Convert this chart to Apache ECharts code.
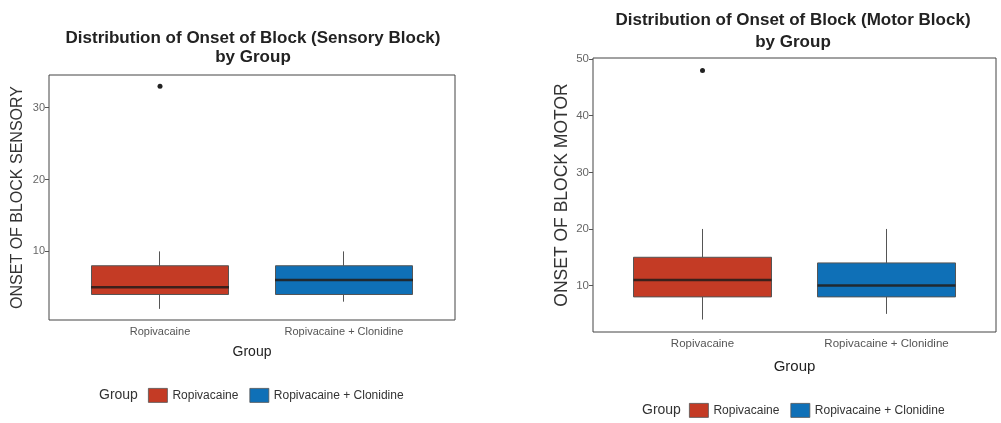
<!DOCTYPE html>
<html>
<head>
<meta charset="utf-8">
<script src="https://cdn.jsdelivr.net/npm/echarts@6/dist/echarts.min.js"></script>
<style>
  html, body { margin: 0; padding: 0; background: #fff; }
  #chart { width: 1001px; height: 423px; }
</style>
</head>
<body>
<div id="chart"></div>
<script>
// groups on the x axis
const groups = ['Ropivacaine', 'Ropivacaine + Clonidine'];
const groupColors = ['#C43B25', '#0F70B7'];

// [min, Q1, median, Q3, max] per group
const sensoryBox = [[2, 4, 5, 8, 10], [3, 4, 6, 8, 10]];
const sensoryOutliers = [['Ropivacaine', 33]];
const sensoryTicks = [10, 20, 30];

const motorBox = [[4, 8, 11, 15, 20], [5, 8, 10, 14, 20]];
const motorOutliers = [['Ropivacaine', 48]];
const motorTicks = [10, 20, 30, 40, 50];

const chart = echarts.init(document.getElementById('chart'));

const axisGrey = '#555';

function panel(p) {
  // p.frame = grid of the bordered frame, p.data = grid of the data area
  const xAxes = [
    {gridIndex: p.frame, type: 'value', show: false},
    {
      gridIndex: p.data,
      type: 'category',
      data: groups,
      axisLine: {show: false},
      axisTick: {alignWithLabel: true, length: 4, lineStyle: {color: axisGrey}},
      axisLabel: {color: axisGrey, fontSize: p.tickFont, margin: 6},
      name: 'Group',
      nameLocation: 'middle',
      nameGap: p.xNameGap,
      nameTextStyle: {fontSize: p.nameFont, color: '#222'},
    },
  ];
  const yAxes = [
    {gridIndex: p.frame, type: 'value', show: false},
    {
      gridIndex: p.data,
      type: 'value',
      min: p.min,
      max: p.max,
      offset: p.offset,
      axisLine: {show: false},
      axisTick: {show: true, length: 4, customValues: p.ticks, lineStyle: {color: axisGrey}},
      axisLabel: {customValues: p.ticks, color: '#666', fontSize: p.tickFont, margin: 4},
      splitLine: {show: false},
      name: p.yName,
      nameLocation: 'middle',
      nameGap: p.yNameGap,
      nameTextStyle: {fontSize: p.yNameFont, color: '#333'},
    },
  ];
  return {xAxes, yAxes};
}

const left = panel({frame: 0, data: 1, min: 0.45, max: 34.55, offset: 19, ticks: sensoryTicks,
  yName: 'ONSET OF BLOCK SENSORY', yNameFont: 16, yNameGap: 23, xNameGap: 25, tickFont: 11, nameFont: 14});
const right = panel({frame: 2, data: 3, min: 1.8, max: 50.2, offset: 17.5, ticks: motorTicks,
  yName: 'ONSET OF BLOCK MOTOR', yNameFont: 17.5, yNameGap: 22, xNameGap: 27, tickFont: 11.5, nameFont: 15});

// box + whiskers (no caps, like ggplot) as candlesticks: [Q1, Q3, min, max]
function boxSeries(boxes, outliers, axisIdx) {
  const boxes2 = groups.map((g, i) => ({
    name: g,
    type: 'candlestick',
    xAxisIndex: axisIdx,
    yAxisIndex: axisIdx,
    barWidth: 138,
    itemStyle: {color: groupColors[i], color0: groupColors[i], borderColor: '#555', borderColor0: '#555', borderWidth: 1},
    data: boxes.map((v, j) => (j === i ? [v[1], v[3], v[0], v[4]] : ['-', '-', '-', '-'])),
    z: 2,
  }));
  return boxes2.concat([
    {
      // thick median line
      type: 'scatter',
      xAxisIndex: axisIdx,
      yAxisIndex: axisIdx,
      symbol: 'rect',
      symbolSize: [138, 2.5],
      itemStyle: {color: 'rgba(35,28,26,0.85)', opacity: 1},
      data: boxes.map((v, i) => [groups[i], v[2]]),
      z: 3,
      silent: true,
    },
    {
      type: 'scatter',
      xAxisIndex: axisIdx,
      yAxisIndex: axisIdx,
      symbolSize: 5,
      itemStyle: {color: '#222', opacity: 1},
      data: outliers,
      z: 3,
    },
  ]);
}

const legendCommon = {
  data: groups,
  orient: 'horizontal',
  icon: 'rect',
  itemWidth: 19,
  itemHeight: 14,
  itemGap: 11,
  itemStyle: {borderColor: '#555', borderWidth: 0.8},
  textStyle: {fontSize: 12, color: '#333'},
  selectedMode: false,
};

const option = {
  animation: false,
  textStyle: {fontFamily: 'Liberation Sans, Arial, sans-serif'},
  title: [
    {
      text: 'Distribution of Onset of Block (Sensory Block)\nby Group',
      left: 248, top: 23.5, textAlign: 'center',
      textStyle: {fontSize: 17, fontWeight: 'bold', color: '#222', lineHeight: 19},
    },
    {
      text: 'Distribution of Onset of Block (Motor Block)\nby Group',
      left: 788, top: 4, textAlign: 'center',
      textStyle: {fontSize: 17, fontWeight: 'bold', color: '#222', lineHeight: 22},
    },
    {text: 'Group', left: 94, top: 383, textStyle: {fontSize: 14, fontWeight: 'normal', color: '#333'}},
    {text: 'Group', left: 637, top: 398, textStyle: {fontSize: 14, fontWeight: 'normal', color: '#333'}},
  ],
  legend: [
    Object.assign({left: 143, top: 383}, legendCommon),
    Object.assign({left: 684, top: 398}, legendCommon),
  ],
  grid: [
    {left: 49, top: 75, width: 406, height: 245, show: true, borderColor: '#444', borderWidth: 1, backgroundColor: 'transparent'},
    {left: 68, top: 75, width: 368, height: 245},
    {left: 593, top: 58, width: 403, height: 274, show: true, borderColor: '#444', borderWidth: 1, backgroundColor: 'transparent'},
    {left: 610.5, top: 58, width: 368, height: 274},
  ],
  xAxis: left.xAxes.concat(right.xAxes),
  yAxis: left.yAxes.concat(right.yAxes),
  series: [
    ...boxSeries(sensoryBox, sensoryOutliers, 1),
    ...boxSeries(motorBox, motorOutliers, 3),
  ],
};

chart.setOption(option);
</script>
</body>
</html>
